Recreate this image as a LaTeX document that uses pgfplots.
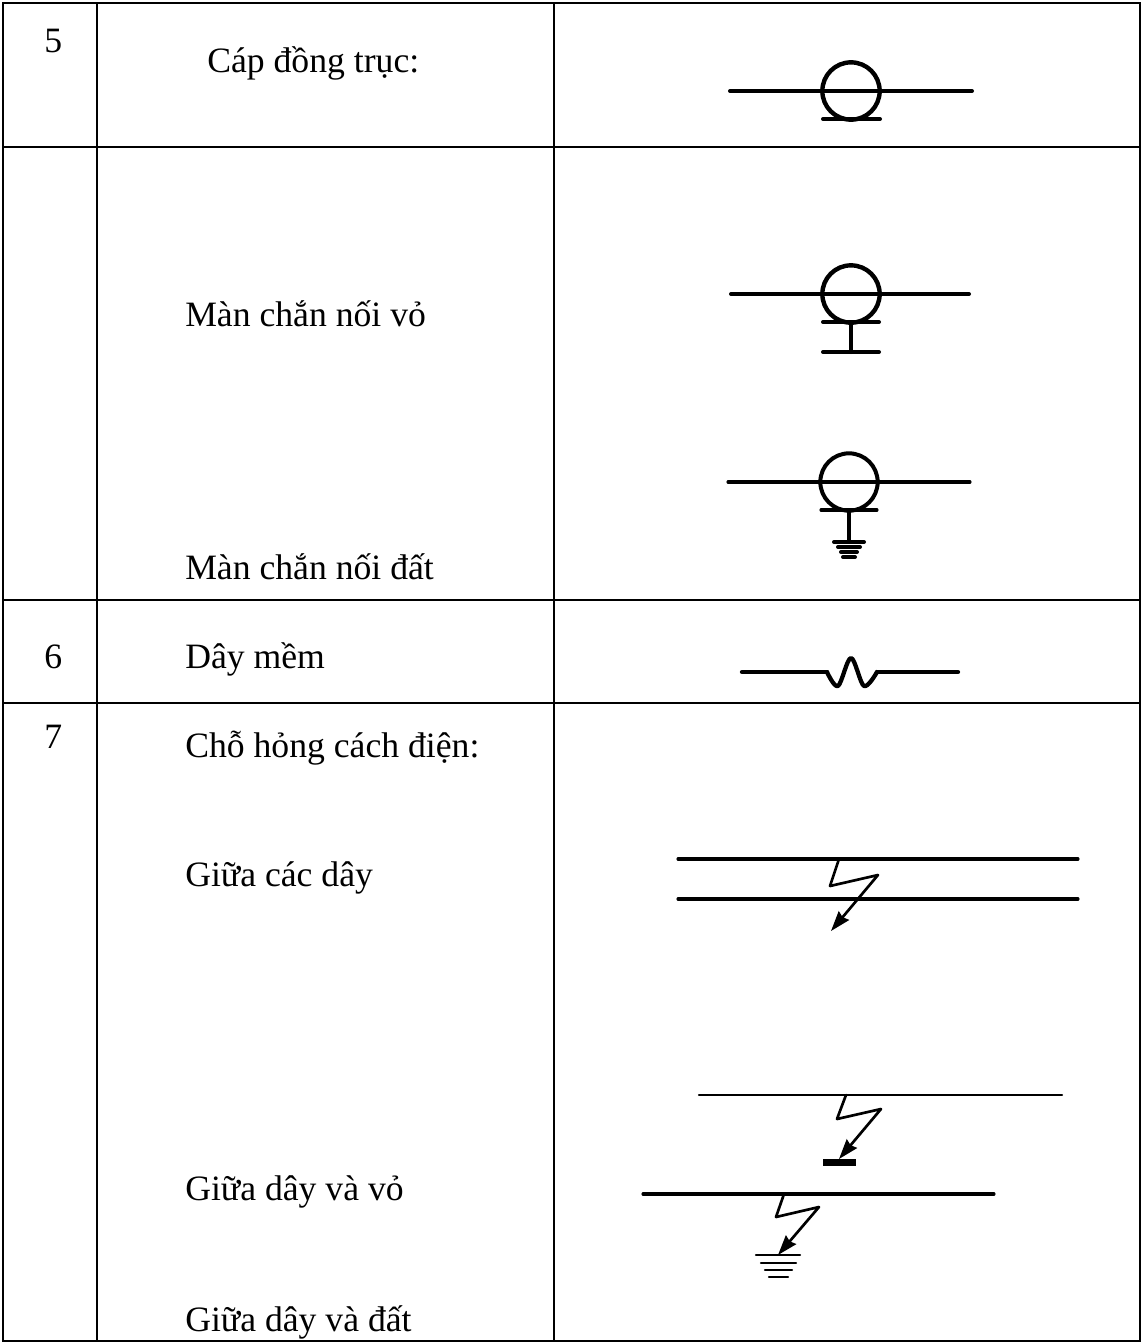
\documentclass[border=0pt]{standalone}
\usepackage{pgfplots}
\pgfplotsset{compat=1.18}
\usepackage{fontspec}
\setmainfont{Liberation Serif}
\usetikzlibrary{arrows.meta}
\tikzset{
  txt/.style={font=\fontsize{26.75}{32}\selectfont, anchor=base west, inner sep=0pt, text=black},
  tbl/.style={line width=1.6pt, line cap=rect},
  hv/.style={line width=3pt},
  md/.style={line width=2.3pt},
  th/.style={line width=1.8pt},
  arr/.style={line width=2pt, -{Stealth[length=15pt,width=10pt,inset=1.5pt]}},
}
\begin{document}
\begin{tikzpicture}
\path[use as bounding box] (0,0) rectangle (855.75pt,1007.25pt);
\begin{axis}[
  hide axis, scale only axis, width=855.75pt, height=1007.25pt,
  xmin=0, xmax=1141, ymin=0, ymax=1343, y dir=reverse, clip=false,
  every axis plot/.append style={black, no markers, line cap=round, line join=round},
]
% table rules
\addplot[tbl] coordinates {(3,3) (1140,3)};
\addplot[tbl] coordinates {(3,147) (1140,147)};
\addplot[tbl] coordinates {(3,600) (1140,600)};
\addplot[tbl] coordinates {(3,703) (1140,703)};
\addplot[tbl] coordinates {(3,1341) (1140,1341)};
\addplot[tbl] coordinates {(3,3) (3,1341)};
\addplot[tbl] coordinates {(97,3) (97,1341)};
\addplot[tbl] coordinates {(554,3) (554,1341)};
\addplot[tbl] coordinates {(1140,3) (1140,1341)};
% circles
\addplot[only marks, mark=o, mark size=21.5pt, mark options={line width=3.3pt, draw=black, fill opacity=0, draw opacity=1}] coordinates {(851,91) (851,294)};
\addplot[only marks, mark=o, mark size=21.5pt, mark options={line width=3pt, draw=black, fill opacity=0, draw opacity=1}] coordinates {(849,482)};
% coaxial
\addplot[hv] coordinates {(730,91) (972,91)};
\addplot[hv] coordinates {(823,119) (880,119)};
% screen to case
\addplot[hv] coordinates {(731,294) (969,294)};
\addplot[hv] coordinates {(823,322) (879,322)};
\addplot[hv] coordinates {(851,322) (851,352)};
\addplot[hv] coordinates {(823,352) (879,352)};
% screen to earth
\addplot[md] coordinates {(728,482) (970,482)};
\addplot[md] coordinates {(821,510) (877,510)};
\addplot[md] coordinates {(849,510) (849,541)};
\addplot[hv] coordinates {(834,542) (864,542)};
\addplot[hv] coordinates {(838,547) (860,547)};
\addplot[hv] coordinates {(841,552) (857,552)};
\addplot[hv] coordinates {(843,557) (855,557)};
% flexible wire
\addplot[line width=3.2pt] coordinates {(742,672) (827,672)};
\addplot[line width=3.2pt, smooth, tension=0.55] coordinates {(827,672) (838,686) (851,658) (864,686) (877,672)};
\addplot[line width=3.2pt] coordinates {(877,672) (958,672)};
% faults
\addplot[md] coordinates {(678,859) (1078,859)};
\addplot[md] coordinates {(678,899) (1078,899)};
\addplot[arr] coordinates {(839,859) (830,886) (878,875) (831,931)};
\addplot[th] coordinates {(699,1095) (1062,1095)};
\addplot[arr] coordinates {(846,1095) (837,1119) (881,1109) (839,1159)};
\addplot[line width=5pt, line cap=butt] coordinates {(823,1162.5) (856,1162.5)};
\addplot[md] coordinates {(643,1194) (994,1194)};
\addplot[arr] coordinates {(784,1194) (776,1217) (819,1207) (778,1255)};
\addplot[th] coordinates {(756,1255) (800,1255)};
\addplot[th] coordinates {(761,1263) (796,1263)};
\addplot[th] coordinates {(765,1270) (792,1270)};
\addplot[th] coordinates {(769,1277) (788,1277)};
% text
\node[txt] at (axis cs:44,52) {5};
\node[txt] at (axis cs:207,72) {Cáp đồng trục:};
\node[txt] at (axis cs:185,326) {Màn chắn nối vỏ};
\node[txt] at (axis cs:185,579) {Màn chắn nối đất};
\node[txt] at (axis cs:44,668) {6};
\node[txt] at (axis cs:185,668) {Dây mềm};
\node[txt] at (axis cs:44,748) {7};
\node[txt] at (axis cs:185,757) {Chỗ hỏng cách điện:};
\node[txt] at (axis cs:185,886) {Giữa các dây};
\node[txt] at (axis cs:185,1200) {Giữa dây và vỏ};
\node[txt] at (axis cs:185,1331) {Giữa dây và đất};
\end{axis}
\end{tikzpicture}
\end{document}
